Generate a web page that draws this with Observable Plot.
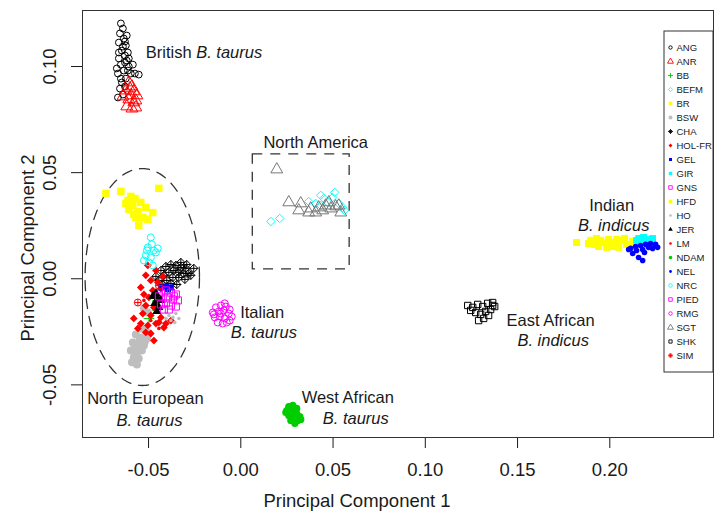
<!DOCTYPE html>
<html><head><meta charset="utf-8">
<script src="https://cdn.jsdelivr.net/npm/d3@7"></script>
<script src="https://cdn.jsdelivr.net/npm/@observablehq/plot@0.6"></script>
<style>
body{margin:0;background:#fff;}
#wrap{position:relative;width:717px;height:514px;background:#fff;}
#wrap svg{position:absolute;left:0;top:0;}
#wrap svg.legend{left:663px;top:30px;}
</style></head><body><div id="wrap"></div>
<script>
// ---- tick values ----
const xTicks = [-0.05, 0, 0.05, 0.10, 0.15, 0.20];
const yTicks = [-0.05, 0, 0.05, 0.10];

// ---- breed point arrays [PC1, PC2] ----
const ANG = [[-0.0650,0.1203],[-0.0639,0.1179],[-0.0655,0.1156],[-0.0634,0.1132],[-0.0661,0.1113],[-0.0623,0.1099],[-0.0645,0.1075],[-0.0628,0.1052],[-0.0661,0.1038],[-0.0618,0.1028],[-0.0650,0.1009],[-0.0607,0.1000],[-0.0634,0.0981],[-0.0666,0.0967],[-0.0596,0.0967],[-0.0574,0.0967],[-0.0553,0.0962],[-0.0623,0.0943],[-0.0645,0.0925],[-0.0655,0.0896],[-0.0639,0.0868],[-0.0666,0.0854],[-0.0628,0.1019],[-0.0612,0.1066],[-0.0672,0.0991],[-0.0628,0.1118],[-0.0618,0.1146],[-0.0639,0.1094],[-0.0612,0.0981],[-0.0650,0.0943],[-0.0607,0.1038],[-0.0585,0.1009],[-0.0661,0.1066],[-0.0628,0.0906]];
const ANR = [[-0.0607,0.0925],[-0.0590,0.0906],[-0.0623,0.0887],[-0.0580,0.0883],[-0.0596,0.0864],[-0.0563,0.0864],[-0.0639,0.0859],[-0.0607,0.0845],[-0.0580,0.0831],[-0.0618,0.0812],[-0.0590,0.0802],[-0.0569,0.0807],[-0.0601,0.0897],[-0.0569,0.0840]];
const BB = [[-0.0477,-0.0126],[-0.0498,-0.0187]];
const BEFM = [[0.0163,0.0270],[0.0211,0.0284],[0.0368,0.0364],[0.0433,0.0393],[0.0450,0.0378],[0.0509,0.0407],[0.0498,0.0383],[0.0433,0.0345],[0.0563,0.0322],[0.0531,0.0355],[0.0471,0.0360],[0.0406,0.0355],[0.0552,0.0336]];
const BR = [[0.1820,0.0171],[0.1896,0.0181],[0.1928,0.0190],[0.1961,0.0171],[0.1993,0.0185],[0.2026,0.0166],[0.2058,0.0181],[0.2091,0.0162],[0.2124,0.0176],[0.1939,0.0152],[0.1983,0.0148],[0.2015,0.0152],[0.2048,0.0148],[0.1918,0.0162],[0.2080,0.0190],[0.2113,0.0152],[0.1950,0.0181],[0.2004,0.0171],[0.2037,0.0185],[0.2145,0.0166],[0.1885,0.0166]];
const BSW = [[-0.0525,-0.0140],[-0.0504,-0.0159],[-0.0542,-0.0234],[-0.0515,-0.0244],[-0.0569,-0.0263],[-0.0542,-0.0277],[-0.0509,-0.0281],[-0.0585,-0.0300],[-0.0553,-0.0310],[-0.0525,-0.0314],[-0.0596,-0.0338],[-0.0563,-0.0347],[-0.0536,-0.0338],[-0.0580,-0.0371],[-0.0553,-0.0376],[-0.0590,-0.0394],[-0.0563,-0.0404],[-0.0498,-0.0258],[-0.0520,-0.0296],[-0.0574,-0.0324],[-0.0547,-0.0291]];
const CHA = [[-0.0433,0.0039],[-0.0406,0.0058],[-0.0379,0.0067],[-0.0352,0.0063],[-0.0325,0.0053],[-0.0298,0.0049],[-0.0255,0.0049],[-0.0417,0.0016],[-0.0390,0.0030],[-0.0363,0.0039],[-0.0336,0.0030],[-0.0309,0.0025],[-0.0282,0.0025],[-0.0444,-0.0008],[-0.0401,-0.0008],[-0.0368,0.0006],[-0.0336,0.0006],[-0.0303,-0.0003],[-0.0271,0.0016],[-0.0423,-0.0027],[-0.0379,-0.0022],[-0.0347,-0.0027],[-0.0325,0.0077],[-0.0460,0.0011],[-0.0293,0.0067]];
const HOLFR = [[-0.0504,0.0063],[-0.0515,0.0016],[-0.0488,-0.0008],[-0.0450,-0.0017],[-0.0542,-0.0041],[-0.0477,-0.0055],[-0.0433,-0.0046],[-0.0498,-0.0088],[-0.0450,-0.0102],[-0.0515,-0.0126],[-0.0471,-0.0135],[-0.0531,-0.0164],[-0.0488,-0.0173],[-0.0433,-0.0182],[-0.0406,-0.0211],[-0.0379,-0.0197],[-0.0542,-0.0211],[-0.0504,-0.0220],[-0.0460,-0.0211],[-0.0515,-0.0253],[-0.0488,-0.0258],[-0.0417,-0.0230],[-0.0444,-0.0206],[-0.0471,-0.0291],[-0.0525,-0.0074],[-0.0580,-0.0187],[-0.0558,-0.0234],[-0.0460,0.0039],[-0.0423,0.0011]];
const GEL = [[-0.0433,-0.0041],[-0.0406,-0.0036],[-0.0379,-0.0041],[-0.0395,-0.0050]];
const GIR = [[0.2156,0.0190],[0.2183,0.0195],[0.2210,0.0185],[0.2232,0.0190],[0.2194,0.0176],[0.2167,0.0176],[0.2221,0.0171],[0.2145,0.0181]];
const GNS = [[-0.0433,-0.0065],[-0.0406,-0.0055],[-0.0379,-0.0065],[-0.0352,-0.0074],[-0.0423,-0.0093],[-0.0395,-0.0088],[-0.0368,-0.0098],[-0.0341,-0.0102]];
const HFD = [[-0.0731,0.0402],[-0.0650,0.0412],[-0.0596,0.0388],[-0.0444,0.0426],[-0.0623,0.0355],[-0.0585,0.0346],[-0.0542,0.0360],[-0.0607,0.0327],[-0.0558,0.0317],[-0.0477,0.0312],[-0.0531,0.0289],[-0.0569,0.0289],[-0.0504,0.0280],[-0.0553,0.0252],[-0.0580,0.0303],[-0.0612,0.0369],[-0.0574,0.0378],[-0.0515,0.0336]];
const HO = [[-0.0390,-0.0173],[-0.0368,-0.0182],[-0.0352,-0.0164],[-0.0379,-0.0197],[-0.0358,-0.0206],[-0.0406,-0.0187],[-0.0336,-0.0187]];
const JER = [[-0.0460,-0.0069],[-0.0450,-0.0093],[-0.0466,-0.0116],[-0.0444,-0.0135],[-0.0455,-0.0154],[-0.0433,-0.0102],[-0.0477,-0.0083]];
const LM = [[-0.0488,-0.0197],[-0.0444,-0.0234],[-0.0525,-0.0102]];
const NDAM = [[0.0260,-0.0602],[0.0282,-0.0597],[0.0303,-0.0611],[0.0249,-0.0621],[0.0276,-0.0625],[0.0303,-0.0635],[0.0320,-0.0649],[0.0260,-0.0644],[0.0287,-0.0654],[0.0309,-0.0668],[0.0271,-0.0668],[0.0293,-0.0682],[0.0244,-0.0630],[0.0325,-0.0663]];
const NEL = [[0.2113,0.0143],[0.2140,0.0152],[0.2167,0.0157],[0.2194,0.0162],[0.2221,0.0166],[0.2248,0.0162],[0.2259,0.0148],[0.2210,0.0148],[0.2178,0.0138],[0.2145,0.0133],[0.2124,0.0119],[0.2156,0.0100],[0.2178,0.0086],[0.2232,0.0143],[0.2102,0.0138],[0.2188,0.0124]];
const NRC = [[-0.0488,0.0195],[-0.0504,0.0148],[-0.0471,0.0133],[-0.0515,0.0110],[-0.0488,0.0100],[-0.0460,0.0124],[-0.0525,0.0086],[-0.0477,0.0063],[-0.0498,0.0077],[-0.0450,0.0143],[-0.0509,0.0133],[-0.0482,0.0162]];
const PIED = [[-0.0433,-0.0121],[-0.0406,-0.0116],[-0.0379,-0.0126],[-0.0352,-0.0131],[-0.0417,-0.0145],[-0.0390,-0.0145],[-0.0444,-0.0083],[-0.0363,-0.0083]];
const RMG = [[-0.0135,-0.0135],[-0.0108,-0.0126],[-0.0081,-0.0131],[-0.0060,-0.0145],[-0.0152,-0.0159],[-0.0119,-0.0154],[-0.0092,-0.0149],[-0.0065,-0.0164],[-0.0049,-0.0178],[-0.0141,-0.0182],[-0.0114,-0.0178],[-0.0087,-0.0187],[-0.0060,-0.0197],[-0.0125,-0.0206],[-0.0098,-0.0211],[-0.0076,-0.0206],[-0.0108,-0.0164],[-0.0146,-0.0168],[-0.0087,-0.0116]];
const SGT = [[0.0195,0.0515],[0.0260,0.0360],[0.0325,0.0355],[0.0314,0.0322],[0.0379,0.0331],[0.0406,0.0312],[0.0460,0.0345],[0.0477,0.0360],[0.0488,0.0331],[0.0542,0.0312],[0.0444,0.0322],[0.0368,0.0312],[0.0422,0.0336],[0.0531,0.0345],[0.0514,0.0341]];
const SHK = [[0.1230,-0.0126],[0.1257,-0.0135],[0.1284,-0.0121],[0.1311,-0.0131],[0.1338,-0.0116],[0.1365,-0.0112],[0.1376,-0.0131],[0.1273,-0.0159],[0.1300,-0.0168],[0.1327,-0.0154],[0.1354,-0.0145],[0.1246,-0.0149],[0.1316,-0.0187],[0.1289,-0.0197],[0.1343,-0.0173],[0.1365,-0.0126]];
const SIM = [[-0.0558,-0.0112],[-0.0444,-0.0032]];

// ---- annotations ----
const labels = [
  {text:"British", x:-0.0515, y:0.1063, italic:false, start:true},
  {text:"B. taurus", x:-0.0242, y:0.1063, italic:true, start:true},
  {text:"North America", x:0.0406, y:0.0642, italic:false, start:false},
  {text:"Indian", x:0.2010, y:0.0345, italic:false, start:false},
  {text:"B. indicus", x:0.2021, y:0.0251, italic:true, start:false},
  {text:"Italian", x:0.0116, y:-0.0159, italic:false, start:false},
  {text:"B. taurus", x:0.0125, y:-0.0253, italic:true, start:false},
  {text:"East African", x:0.1679, y:-0.0197, italic:false, start:false},
  {text:"B. indicus", x:0.1693, y:-0.0291, italic:true, start:false},
  {text:"West African", x:0.0580, y:-0.0559, italic:false, start:false},
  {text:"B. taurus", x:0.0623, y:-0.0658, italic:true, start:false},
  {text:"North European", x:-0.0517, y:-0.0564, italic:false, start:false},
  {text:"B. taurus", x:-0.0495, y:-0.0668, italic:true, start:false}
];
const naBox = [{x1:0.0065, x2:0.0590, y1:0.0044, y2:0.0586}];
const nEuEllipse = {cx:-0.0534, cy:0.0008, rx:0.0310, ry:0.0511};

// ---- custom symbols ----
const circlePlus = {draw(c,s){const r=Math.sqrt(s/Math.PI);c.moveTo(r,0);c.arc(0,0,r,0,2*Math.PI);c.moveTo(-r,0);c.lineTo(r,0);c.moveTo(0,-r);c.lineTo(0,r);}};
const diamondPlus = {draw(c,s){const r=Math.sqrt(s/Math.PI)*1.25;c.moveTo(0,-r);c.lineTo(r,0);c.lineTo(0,r);c.lineTo(-r,0);c.closePath();c.moveTo(-r,0);c.lineTo(r,0);c.moveTo(0,-r);c.lineTo(0,r);}};

// ---- styles ----
const GREEN="#00CD00", CYAN="#00FFFF", YEL="#FFFF00", GRAY="#BEBEBE", MAG="#FF00FF", RED="#FF0000", BLUE="#0000FF";
const styles = [
  {name:"ANG", data:ANG, color:"#000", symbol:"circle", fill:false, r:3.4},
  {name:"ANR", data:ANR, color:RED, symbol:"triangle", fill:false, r:4.4},
  {name:"BB", data:BB, color:GREEN, symbol:"plus", fill:false, r:3.5},
  {name:"BEFM", data:BEFM, color:CYAN, symbol:"diamond2", fill:false, r:3.8},
  {name:"BR", data:BR, color:YEL, symbol:"square", fill:true, r:4.0},
  {name:"BSW", data:BSW, color:GRAY, symbol:"circle", fill:true, r:4.0},
  {name:"CHA", data:CHA, color:"#000", symbol:diamondPlus, fill:false, r:3.3},
  {name:"HOL-FR", data:HOLFR, color:RED, symbol:"diamond2", fill:true, r:3.5},
  {name:"GEL", data:GEL, color:BLUE, symbol:"square", fill:true, r:3.4},
  {name:"GIR", data:GIR, color:CYAN, symbol:"square", fill:true, r:3.8},
  {name:"GNS", data:GNS, color:MAG, symbol:"square", fill:false, r:4.0},
  {name:"HFD", data:HFD, color:YEL, symbol:"square", fill:true, r:4.2},
  {name:"HO", data:HO, color:GRAY, symbol:"circle", fill:true, r:1.8},
  {name:"JER", data:JER, color:"#000", symbol:"triangle", fill:true, r:3.4},
  {name:"LM", data:LM, color:RED, symbol:"circle", fill:true, r:1.8},
  {name:"NDAM", data:NDAM, color:GREEN, symbol:"circle", fill:true, r:3.6},
  {name:"NEL", data:NEL, color:BLUE, symbol:"circle", fill:true, r:2.8},
  {name:"NRC", data:NRC, color:CYAN, symbol:"circle", fill:false, r:3.5},
  {name:"PIED", data:PIED, color:MAG, symbol:"square", fill:false, r:4.0},
  {name:"RMG", data:RMG, color:MAG, symbol:"circle", fill:false, r:3.5},
  {name:"SGT", data:SGT, color:"#777", symbol:"triangle", fill:false, r:4.4},
  {name:"SHK", data:SHK, color:"#000", symbol:"square", fill:false, r:3.6},
  {name:"SIM", data:SIM, color:RED, symbol:circlePlus, fill:false, r:3.5}
];
const breeds = styles.map(s => s.name);

const FONT = "'Liberation Sans', Arial, Helvetica, sans-serif";
const fmt = d => d.toFixed(2);
const ellipsePts = d3.range(0, 361, 2).map(a => ({
  x: nEuEllipse.cx + nEuEllipse.rx * Math.cos(a * Math.PI / 180),
  y: nEuEllipse.cy + nEuEllipse.ry * Math.sin(a * Math.PI / 180)
}));

const textMarks = [[false,false],[true,false],[false,true],[true,true]].map(([it, st]) =>
  Plot.text(labels.filter(d => d.italic === it && d.start === st), {
    x: "x", y: "y", text: "text", textAnchor: st ? "start" : "middle",
    fontStyle: it ? "italic" : "normal", fontSize: 16.5, fill: "#1a1a1a"
  }));

const chart = Plot.plot({
  width: 717, height: 514,
  marginLeft: 82, marginRight: 4, marginTop: 10, marginBottom: 77,
  x: {domain: [-0.0858, 0.2562]},
  y: {domain: [-0.0748, 0.1264]},
  style: {fontFamily: FONT, background: "white", color: "#1a1a1a", overflow: "visible"},
  marks: [
    Plot.axisX(xTicks, {tickSize: 11, tickPadding: 14, tickFormat: fmt, fontSize: 18.5, label: null}),
    Plot.axisY(yTicks, {tickSize: 11, tickPadding: 16, tickRotate: -90, tickFormat: fmt, fontSize: 18.5, label: null}),
    Plot.line(ellipsePts, {x: "x", y: "y", stroke: "#333", strokeWidth: 1.3, strokeDasharray: "10,8"}),
    Plot.rect(naBox, {x1: "x1", x2: "x2", y1: "y1", y2: "y2", fill: "none", stroke: "#333", strokeWidth: 1.3, strokeDasharray: "10,8"}),
    ...styles.map(s => Plot.dot(s.data, {
      x: d => d[0], y: d => d[1], symbol: s.symbol, r: s.r,
      fill: s.fill ? s.color : "none", stroke: s.fill ? "none" : s.color, strokeWidth: 1
    })),
    ...textMarks,
    Plot.frame({stroke: "#333"})
  ]
});

const svg = d3.select(chart);
svg.append("text").attr("x", 357).attr("y", 507).attr("text-anchor", "middle")
  .attr("font-size", 18.5).attr("font-family", FONT).attr("fill", "#1a1a1a").text("Principal Component 1");
svg.append("text").attr("transform", "translate(34,248) rotate(-90)").attr("text-anchor", "middle")
  .attr("font-size", 18.5).attr("font-family", FONT).attr("fill", "#1a1a1a").text("Principal Component 2");

const legend = Plot.plot({
  width: 50, height: 342, margin: 0,
  x: {domain: [0, 1], axis: null},
  y: {type: "point", domain: breeds, range: [10, 332], axis: null},
  style: {fontFamily: FONT, background: "white", color: "#1a1a1a", overflow: "visible"},
  marks: [
    ...styles.map(s => Plot.dot([s.name], {
      y: d => d, frameAnchor: "left", dx: 7, symbol: s.symbol, r: Math.max(1.3, s.r * 0.5),
      fill: s.fill ? s.color : "none", stroke: s.fill ? "none" : s.color, strokeWidth: 0.9
    })),
    Plot.text(breeds, {y: d => d, text: d => d, frameAnchor: "left", dx: 13, textAnchor: "start", fontSize: 9.5, fill: "#1a1a1a"}),
    Plot.frame({stroke: "#333", inset: 0.5})
  ]
});
legend.classList.add("legend");

const wrap = document.getElementById("wrap");
wrap.appendChild(chart);
wrap.appendChild(legend);
</script></body></html>
